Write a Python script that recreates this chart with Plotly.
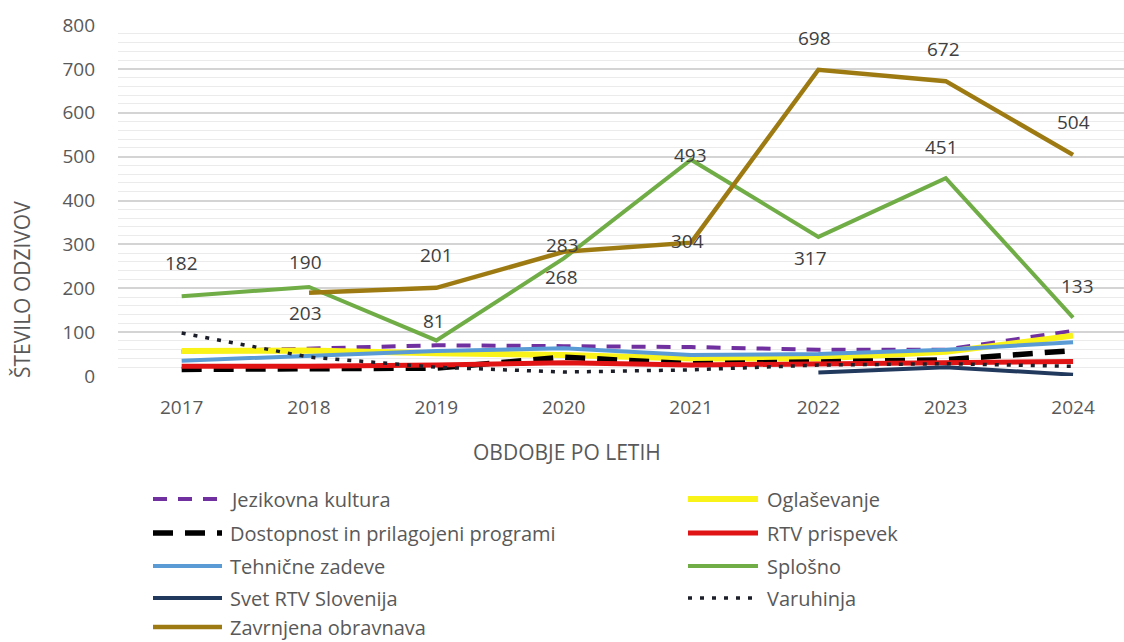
import plotly.graph_objects as go

# Years on the category axis
years = ["2017", "2018", "2019", "2020", "2021", "2022", "2023", "2024"]

# Number of responses per topic and year (None = no data for that year)
jezikovna_kultura = [55, 62, 70, 68, 66, 60, 60, 103]
oglasevanje = [57, 58, 52, 48, 40, 40, 55, 92]
dostopnost = [15, 16, 18, 43, 28, 32, 37, 58]
rtv_prispevek = [22, 22, 25, 30, 25, 27, 30, 33]
tehnicne_zadeve = [35, 47, 57, 63, 48, 50, 60, 77]
splosno = [182, 203, 81, 268, 493, 317, 451, 133]
svet_rtv = [None, None, None, None, None, 8, 20, 3]
varuhinja = [98, 43, 20, 9, 14, 25, 28, 22]
zavrnjena = [None, 190, 201, 283, 304, 698, 672, 504]

W, H = 1124, 642
ML, MR, MT, MB = 118, 0, 25, 266
PW, PH = W - ML - MR, H - MT - MB

FONT = "Open Sans"
GREY = "#595959"

x = list(range(len(years)))

series = [
    ("Jezikovna kultura", jezikovna_kultura, "#7030A0", 4, "14px,11px"),
    ("Oglaševanje", oglasevanje, "#FAF31A", 6, "solid"),
    ("Dostopnost in prilagojeni programi", dostopnost, "#000000", 5.5, "20px,12px"),
    ("RTV prispevek", rtv_prispevek, "#E01414", 5, "solid"),
    ("Tehnične zadeve", tehnicne_zadeve, "#5B9BD5", 4, "solid"),
    ("Splošno", splosno, "#70AD47", 4, "solid"),
    ("Svet RTV Slovenija", svet_rtv, "#22395E", 4, "solid"),
    ("Varuhinja", varuhinja, "#1C1F2A", 3.5, "4px,8px"),
    ("Zavrnjena obravnava", zavrnjena, "#9E7B12", 4.5, "solid"),
]

fig = go.Figure()
for name, vals, color, width, dash in series:
    fig.add_trace(go.Scatter(
        x=x, y=vals, name=name, mode="lines",
        line=dict(color=color, width=width, dash=dash),
        connectgaps=False, showlegend=False,
    ))

# Value labels for the two large series: per-year pixel offsets from the point
splosno_offsets = [(0, 33), (-4, -26), (-2, 19), (-2, -19), (-1, 5), (-8, -21), (-4, 31), (4, 32)]
zavrnjena_offsets = [None, (-4, 31), (0, 33), (-1, 7), (-4, 2), (-4, 32), (-2, 32), (0, 33)]

annotations = []
for vals, offs in ((splosno, splosno_offsets), (zavrnjena, zavrnjena_offsets)):
    for i, v in enumerate(vals):
        if v is None or offs[i] is None:
            continue
        dx, dy = offs[i]
        annotations.append(dict(
            x=i, y=v, xref="x", yref="y", text=str(v), showarrow=False,
            xshift=dx, yshift=dy, font=dict(family=FONT, size=19, color="#404040"),
        ))


def px_x(p):
    return (p - ML) / PW


def px_y(p):
    return (H - MB - p) / PH


# Axis titles
annotations.append(dict(
    x=px_x(22), y=px_y(290), xref="paper", yref="paper", text="ŠTEVILO ODZIVOV",
    xanchor="center", yanchor="middle",
    textangle=-90, showarrow=False, font=dict(family=FONT, size=21, color=GREY),
))
annotations.append(dict(
    x=px_x(567), y=px_y(452), xref="paper", yref="paper", text="OBDOBJE PO LETIH",
    xanchor="center", yanchor="middle",
    showarrow=False, font=dict(family=FONT, size=21, color=GREY),
))

# Two-column legend drawn row by row
shapes = []
col_pos = [(153, 222, 228), (688, 758, 765)]
row_y = [499, 533, 566, 598, 627]
for k, (name, vals, color, width, dash) in enumerate(series):
    r, c = divmod(k, 2)
    x0, x1, xt = col_pos[c]
    yy = row_y[r]
    shapes.append(dict(
        type="line", xref="paper", yref="paper",
        x0=px_x(x0), x1=px_x(x1), y0=px_y(yy), y1=px_y(yy),
        line=dict(color=color, width=width, dash=dash),
    ))
    annotations.append(dict(
        x=px_x(xt), y=px_y(yy), xref="paper", yref="paper", text=name,
        xanchor="left", yanchor="middle", showarrow=False,
        font=dict(family=FONT, size=20, color=GREY),
    ))

fig.update_layout(
    width=W, height=H,
    margin=dict(l=ML, r=MR, t=MT, b=MB),
    paper_bgcolor="white", plot_bgcolor="white",
    font=dict(family=FONT, size=19, color=GREY),
    annotations=annotations, shapes=shapes,
    showlegend=False,
)
fig.update_xaxes(
    range=[-0.5, 7.4], tickvals=x, ticktext=years,
    showgrid=False, zeroline=False, showline=False,
    ticks="", ticklabelstandoff=18,
    tickfont=dict(family=FONT, size=19, color=GREY),
)
fig.update_yaxes(
    range=[0, 800], dtick=100, tick0=0,
    showgrid=True, gridcolor="#D4D4D4", gridwidth=1.5,
    minor=dict(dtick=20, showgrid=True, gridcolor="#EBEBEB", gridwidth=1),
    zeroline=False, showline=False, ticks="", ticklabelstandoff=22,
    tickfont=dict(family=FONT, size=19, color=GREY),
)

fig.write_html("out.html")
